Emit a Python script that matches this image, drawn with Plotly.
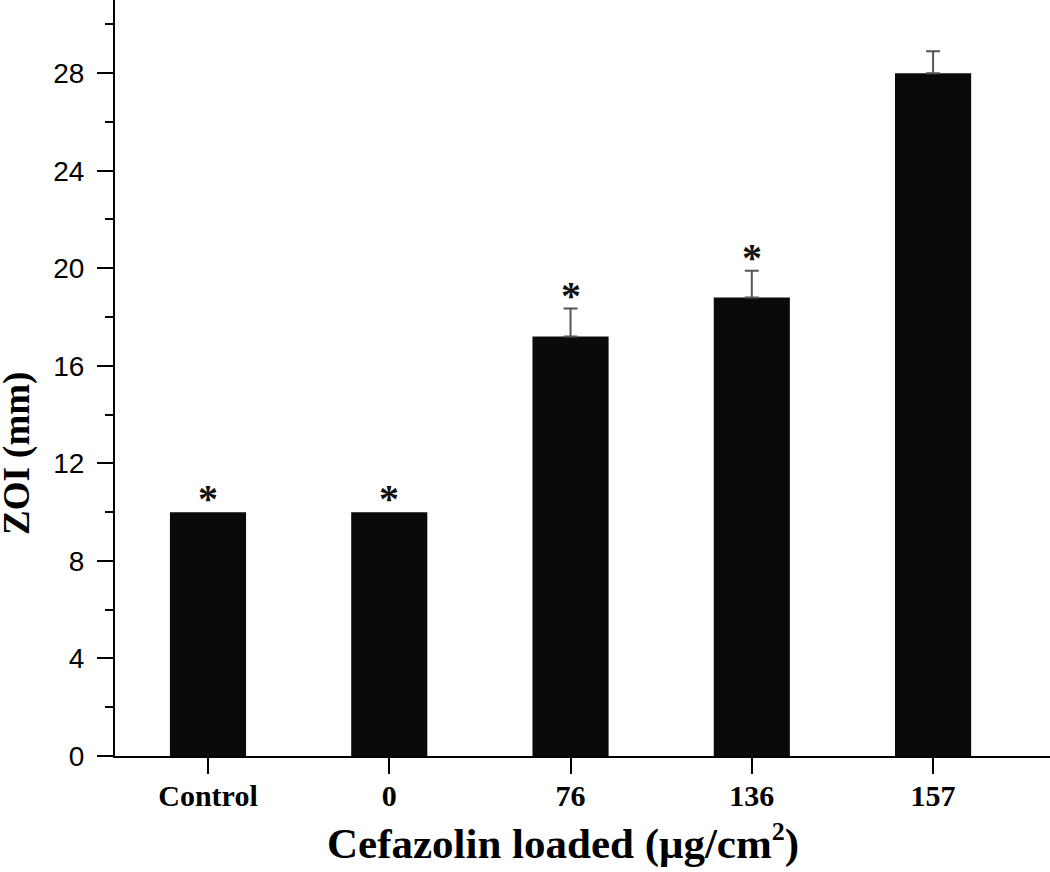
import plotly.graph_objects as go

categories = ["Control", "0", "76", "136", "157"]
zoi_mm = [10.0, 10.0, 17.2, 18.8, 28.0]
zoi_err = [0.0, 0.0, 1.15, 1.1, 0.9]
significant = [True, True, True, True, False]
y_ticks = [0, 4, 8, 12, 16, 20, 24, 28]

xpos = list(range(len(categories)))

fig = go.Figure()
fig.add_trace(go.Bar(
    x=xpos,
    y=zoi_mm,
    width=0.42,
    marker=dict(color="#0a0a0a", line=dict(width=0)),
))

# error bars (upper only) for the bars that have a visible error
ex = [x for x, e in zip(xpos, zoi_err) if e > 0]
ey = [v for v, e in zip(zoi_mm, zoi_err) if e > 0]
ee = [e for e in zoi_err if e > 0]
fig.add_trace(go.Scatter(
    x=ex, y=ey, mode="markers",
    marker=dict(size=0.1, color="rgba(0,0,0,0)"),
    error_y=dict(type="data", symmetric=False, array=ee, arrayminus=[0] * len(ee),
                 visible=True, color="#555555", thickness=2, width=7),
    hoverinfo="skip",
))

for i, (v, e, s) in enumerate(zip(zoi_mm, zoi_err, significant)):
    if s:
        top = v + e
        fig.add_annotation(x=i, y=top, text="<b>*</b>", showarrow=False,
                           yanchor="bottom", yshift=-11,
                           font=dict(family="Liberation Serif", size=40, color="#111"))

fig.add_annotation(xref="paper", yref="paper", x=(563 - 115) / 935, y=(756 - 842) / 756,
                   xanchor="center", yanchor="middle", showarrow=False,
                   text="<b>Cefazolin loaded (μg/cm<sup><span style='font-size:26px'>2</span></sup>)</b>",
                   font=dict(family="Liberation Serif", size=43, color="black"))
fig.add_annotation(xref="paper", yref="paper", x=(17 - 115) / 935, y=(756 - 454) / 756,
                   xanchor="center", yanchor="middle", showarrow=False, textangle=-90,
                   text="<b>ZOI (mm)</b>",
                   font=dict(family="Liberation Serif", size=37, color="black"))

fig.update_layout(
    width=1050, height=872,
    margin=dict(l=115, r=0, t=0, b=116, autoexpand=False),
    paper_bgcolor="white", plot_bgcolor="white",
    showlegend=False,
    xaxis=dict(
        range=[-0.513, 4.645],
        automargin=False,
        tickmode="array",
        tickvals=xpos,
        ticktext=categories,
        ticks="outside", ticklen=16, tickwidth=2, tickcolor="black",
        ticklabelstandoff=-4,
        showline=True, linewidth=2, linecolor="black",
        showgrid=False, zeroline=False,
        tickfont=dict(family="Liberation Serif", size=30, color="black", weight="bold"),
    ),
    yaxis=dict(
        range=[0, 31],
        automargin=False,
        tickmode="array",
        tickvals=y_ticks,
        ticks="outside", ticklen=16, tickwidth=2, tickcolor="black",
        ticklabelstandoff=7,
        minor=dict(dtick=2, ticks="outside", ticklen=8, tickwidth=2, tickcolor="black", showgrid=False),
        showline=True, linewidth=2, linecolor="black",
        showgrid=False, zeroline=False,
        tickfont=dict(family="Liberation Sans", size=28, color="black"),
    ),
)

fig.write_html("out.html", config={"displayModeBar": False},
               post_script="document.body.style.margin='0px';document.body.style.overflow='hidden';")
